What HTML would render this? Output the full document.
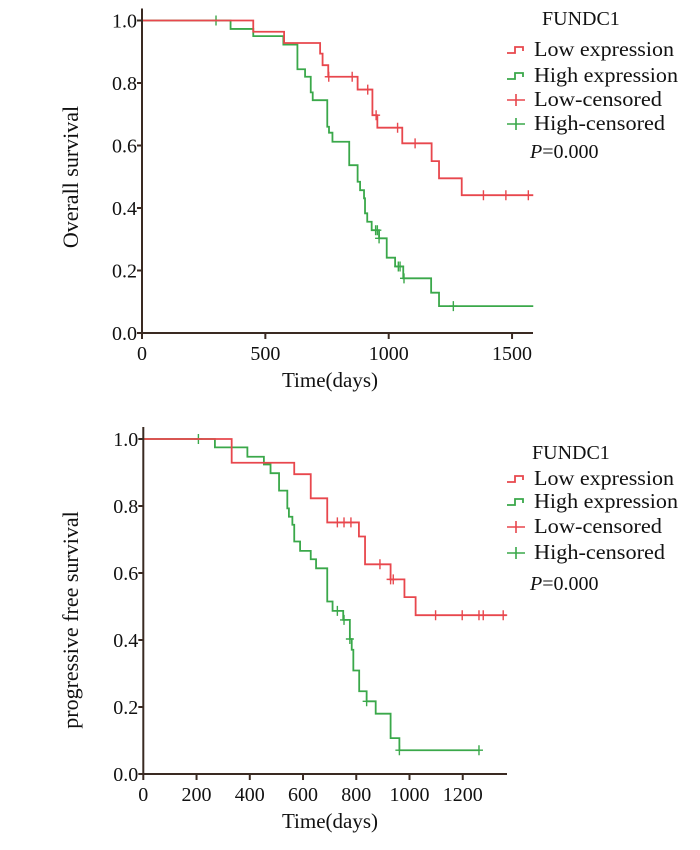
<!DOCTYPE html>
<html><head><meta charset="utf-8"><style>
html,body{margin:0;padding:0;background:#fff;}
svg{display:block;font-family:"Liberation Serif",serif;}
</style></head><body>
<svg id="svg" width="700" height="850" viewBox="0 0 700 850" xmlns="http://www.w3.org/2000/svg"></svg>
<script>
// ---- Chart 1 (overall survival) data ----
const os_xTicks = [0, 500, 1000, 1500];
const os_yTicks = [0.0, 0.2, 0.4, 0.6, 0.8, 1.0];
const os_lowTimes = [451, 576, 722, 732, 755, 874, 934, 954, 1055, 1174, 1204, 1296];
const os_lowSurv  = [0.964, 0.928, 0.894, 0.857, 0.820, 0.779, 0.697, 0.657, 0.607, 0.550, 0.495, 0.441];
const os_lowCensor = [757, 852, 915, 949, 1036, 1107, 1384, 1475, 1566];
const os_highTimes = [359, 451, 573, 630, 661, 684, 692, 751, 758, 772, 840, 874, 884, 900, 904, 913, 931, 961, 992, 1026, 1059, 1172, 1204];
const os_highSurv  = [0.973, 0.950, 0.923, 0.844, 0.820, 0.770, 0.745, 0.660, 0.641, 0.612, 0.537, 0.484, 0.457, 0.431, 0.383, 0.356, 0.329, 0.303, 0.241, 0.213, 0.175, 0.129, 0.086];
const os_highCensor = [300, 947, 954, 961, 1039, 1046, 1062, 1262];
// ---- Chart 2 (progression free survival) data ----
const pfs_xTicks = [0, 200, 400, 600, 800, 1000, 1200];
const pfs_yTicks = [0.0, 0.2, 0.4, 0.6, 0.8, 1.0];
const pfs_lowTimes = [332, 567, 629, 691, 810, 833, 929, 981, 1023];
const pfs_lowSurv  = [0.929, 0.895, 0.823, 0.751, 0.709, 0.626, 0.581, 0.528, 0.474];
const pfs_lowCensor = [729, 754, 780, 889, 929, 939, 1098, 1198, 1261, 1277, 1352];
const pfs_highTimes = [269, 391, 453, 478, 510, 541, 547, 560, 567, 589, 629, 649, 691, 711, 751, 776, 783, 789, 811, 839, 873, 929, 962];
const pfs_highSurv  = [0.975, 0.947, 0.924, 0.898, 0.846, 0.793, 0.768, 0.744, 0.694, 0.666, 0.641, 0.614, 0.515, 0.487, 0.460, 0.403, 0.371, 0.309, 0.247, 0.217, 0.180, 0.107, 0.071];
const pfs_highCensor = [207, 729, 754, 776, 839, 962, 1261];

const NS = "http://www.w3.org/2000/svg";
const svg = document.getElementById('svg');
const RED = "#e8474d", GREEN = "#3aa84a", AX = "#3a2a22";
function mk(tag, attrs, parent) {
  const e = document.createElementNS(NS, tag);
  for (const k in attrs) e.setAttribute(k, attrs[k]);
  (parent || svg).appendChild(e);
  return e;
}
function survAt(times, surv, t) {
  let s = 1;
  for (let i = 0; i < times.length; i++) if (times[i] <= t) s = surv[i];
  return s;
}
function stepPath(times, surv, end, X, Y) {
  let d = `M${X(0)},${Y(1)}`;
  for (let i = 0; i < times.length; i++) d += ` H${X(times[i])} V${Y(surv[i])}`;
  d += ` H${X(end)}`;
  return d;
}
function chart(cfg) {
  const g = mk('g', {});
  
  
  const X = t => cfg.x0 + t * cfg.sx;
  const Y = v => cfg.y0 - v * cfg.sy;
  const curves = [
    [cfg.highTimes, cfg.highSurv, cfg.highEnd, cfg.highCensor, GREEN, 'high-expression'],
    [cfg.lowTimes, cfg.lowSurv, cfg.lowEnd, cfg.lowCensor, RED, 'low-expression']
  ];
  for (const c of curves) {
    const p = mk('path', {d: stepPath(c[0], c[1], c[2], X, Y), fill: 'none', stroke: c[4], 'stroke-width': 1.8}, g);
    
    
    for (const t of c[3]) {
      const s = survAt(c[0], c[1], t);
      const m = mk('path', {d: `M${X(t)},${Y(s)-5} V${Y(s)+5} M${X(t)-4},${Y(s)} H${X(t)+4}`, stroke: c[4], 'stroke-width': 1.4}, g);
      
      
    }
  }
  const ax = mk('path', {d: `M${cfg.x0},${Y(1)-12} V${cfg.y0} H${cfg.xEnd}`, fill: 'none', stroke: AX, 'stroke-width': 2}, g);
  
  
  for (const v of cfg.yTicks) {
    mk('line', {x1: cfg.x0 - 5, x2: cfg.x0, y1: Y(v), y2: Y(v), stroke: AX, 'stroke-width': 2}, g);
    const t = mk('text', {x: cfg.x0 - 5, y: Y(v) + 7, 'text-anchor': 'end', 'font-size': 20, fill: '#111'}, g);
    t.textContent = v.toFixed(1);
    
    
  }
  for (const v of cfg.xTicks) {
    mk('line', {x1: X(v), x2: X(v), y1: cfg.y0, y2: cfg.y0 + 6, stroke: AX, 'stroke-width': 2}, g);
    const t = mk('text', {x: X(v), y: cfg.y0 + 27, 'text-anchor': 'middle', 'font-size': 20, fill: '#111'}, g);
    t.textContent = v;
    
    
  }
  const xt = mk('text', {x: 330, y: cfg.y0 + 54, 'text-anchor': 'middle', 'font-size': 21, fill: '#111'}, g);
  xt.textContent = 'Time(days)';
  
  
  const yt = mk('text', {x: 0, y: 0, 'text-anchor': 'middle', 'font-size': 22, fill: '#111', transform: `translate(78,${cfg.yTitleY}) rotate(-90)`}, g);
  yt.textContent = cfg.yTitle;
  
  
  const L = cfg.legend;
  const lt = mk('text', {x: L.titleX, y: L.ys[0], 'font-size': 20, fill: '#111'}, g);
  lt.textContent = 'FUNDC1';
  
  
  const labels = ['Low expression', 'High expression', 'Low-censored', 'High-censored'];
  const widths = [140, 144, 128, 131];
  const cols = [RED, GREEN, RED, GREEN];
  for (let i = 0; i < 4; i++) {
    const yb = L.ys[i + 1], yc = yb - 6;
    let icon;
    if (i < 2) icon = mk('path', {d: `M507,${yc+3} H515 V${yc-3} H523 V${yc+1}`, fill: 'none', stroke: cols[i], 'stroke-width': 1.8}, g);
    else icon = mk('path', {d: `M507,${yc} H525 M516,${yc-6} V${yc+6}`, stroke: cols[i], 'stroke-width': 1.6}, g);
    
    
    const t = mk('text', {x: 534, y: yb, 'font-size': 21, fill: '#111', textLength: widths[i], lengthAdjust: 'spacingAndGlyphs'}, g);
    t.textContent = labels[i];
    
    
  }
  const pt = mk('text', {x: 530, y: L.ys[5], 'font-size': 20, fill: '#111'}, g);
  pt.innerHTML = '<tspan font-style="italic">P</tspan>=0.000';
  
  
}
chart({name: 'overall-survival-chart', x0: 142, sx: 0.2467, y0: 333, sy: 312.5, xEnd: 533,
  xTicks: os_xTicks, yTicks: os_yTicks,
  lowTimes: os_lowTimes, lowSurv: os_lowSurv, lowCensor: os_lowCensor, lowEnd: 1586,
  highTimes: os_highTimes, highSurv: os_highSurv, highCensor: os_highCensor, highEnd: 1586,
  yTitle: 'Overall survival', yTitleY: 177,
  legend: {titleX: 542, ys: [25, 56, 82, 106, 130, 158]}});
chart({name: 'progression-free-survival-chart', x0: 143.3, sx: 0.2662, y0: 774, sy: 335, xEnd: 507,
  xTicks: pfs_xTicks, yTicks: pfs_yTicks,
  lowTimes: pfs_lowTimes, lowSurv: pfs_lowSurv, lowCensor: pfs_lowCensor, lowEnd: 1365,
  highTimes: pfs_highTimes, highSurv: pfs_highSurv, highCensor: pfs_highCensor, highEnd: 1261,
  yTitle: 'progressive free survival', yTitleY: 620,
  legend: {titleX: 532, ys: [459, 485, 508, 533, 559, 590]}});
</script>
</body></html>
